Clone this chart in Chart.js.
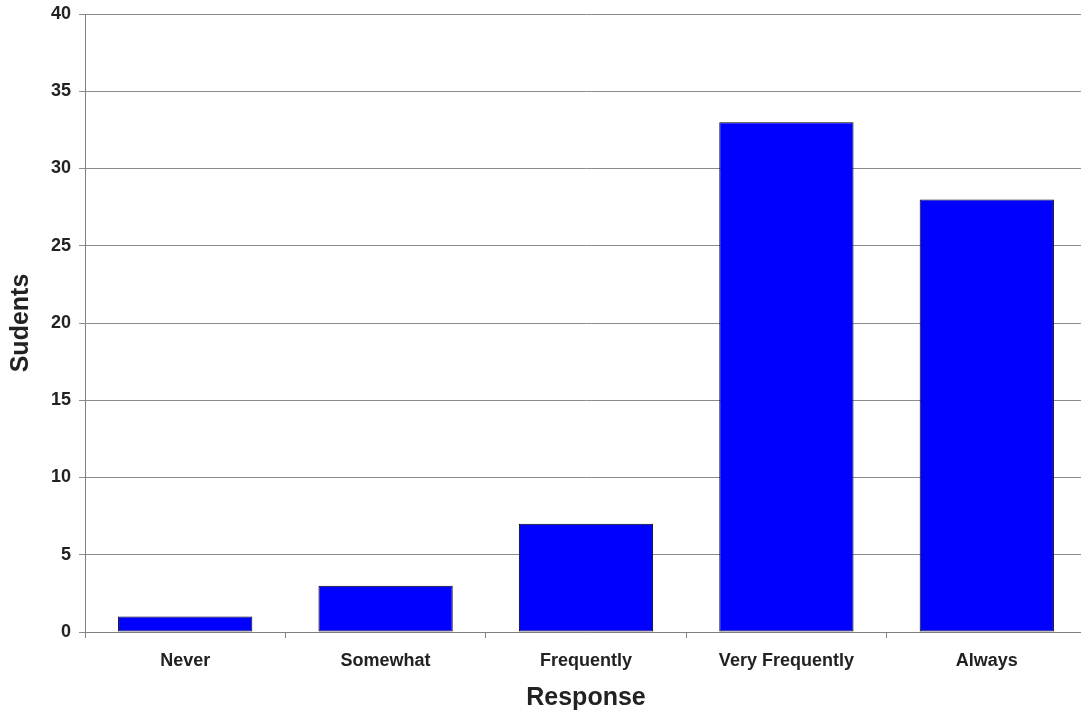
<!DOCTYPE html>
<html>
<head>
<meta charset="utf-8">
<script src="https://cdn.jsdelivr.net/npm/chart.js@4"></script>
<style>
  html, body { margin: 0; padding: 0; background: #fff; overflow: hidden; }
  /* a área do gráfico continua um pouco além da borda direita, como no original */
  #wrap { width: 1087px; height: 715px; }
</style>
</head>
<body>
<div id="wrap"><canvas id="grafico"></canvas></div>
<script>
// Dados do gráfico
const categorias = ["Never", "Somewhat", "Frequently", "Very Frequently", "Always"];
const alunos = [1, 3, 7, 33, 28];
const ticksY = [0, 5, 10, 15, 20, 25, 30, 35, 40];

const ctx = document.getElementById("grafico").getContext("2d");

new Chart(ctx, {
  type: "bar",
  data: {
    labels: categorias,
    datasets: [{
      label: "Students",
      data: alunos,
      backgroundColor: "#0000ff",
      borderColor: "#000000",
      borderWidth: 1,
      borderSkipped: false,
      barPercentage: 0.67,
      categoryPercentage: 1.0
    }]
  },
  options: {
    responsive: true,
    maintainAspectRatio: false,
    animation: false,
    layout: { padding: { top: 14, right: 0, left: 0, bottom: 0 } },
    plugins: {
      legend: { display: false },
      tooltip: { enabled: false }
    },
    scales: {
      x: {
        grid: {
          display: true,
          drawOnChartArea: false,
          drawTicks: true,
          tickLength: 6,
          color: "#808080",
          offset: true
        },
        border: { color: "#808080", width: 1 },
        ticks: {
          color: "#222",
          font: { family: "Liberation Sans, Arial", size: 18, weight: "bold" },
          padding: 12,
          maxRotation: 0
        },
        title: {
          display: true,
          text: "Response",
          color: "#222",
          font: { family: "Liberation Sans, Arial", size: 25, weight: "bold" },
          padding: { top: 8, bottom: 2 }
        },
        afterFit: (s) => { s.height = 83; s.paddingLeft = 0; s.paddingRight = 0; }
      },
      y: {
        min: 0,
        max: 40,
        afterBuildTicks: (s) => { s.ticks = ticksY.map(v => ({ value: v })); },
        grid: {
          color: "#8c8c8c",
          lineWidth: 1,
          drawTicks: true,
          tickLength: 6
        },
        border: { color: "#808080", width: 1 },
        ticks: {
          color: "#222",
          font: { family: "Liberation Sans, Arial", size: 18, weight: "bold" },
          padding: 8
        },
        title: {
          display: true,
          text: "Sudents",
          color: "#222",
          font: { family: "Liberation Sans, Arial", size: 25, weight: "bold" },
          padding: { top: 6, bottom: 6 }
        },
        afterFit: (s) => { s.width = 85; s.paddingTop = 0; s.paddingBottom = 0; }
      }
    }
  }
});
</script>
</body>
</html>
